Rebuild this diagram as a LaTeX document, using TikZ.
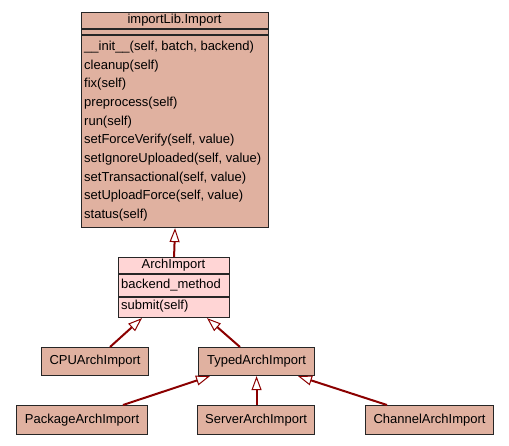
\documentclass[tikz,border=0pt]{standalone}
\usepackage{fontspec}
\setmainfont{Liberation Sans}
\usetikzlibrary{arrows.meta}
\definecolor{clsfill}{HTML}{E0B1A0}
\definecolor{basefill}{HTML}{FFD5D5}
\definecolor{inherit}{HTML}{8B0000}
\definecolor{clsline}{HTML}{262626}
\begin{document}
\begin{tikzpicture}[x=1pt,y=-1pt,
  every node/.style={font=\fontsize{13}{15}\selectfont},
  box/.style={draw=clsline, line width=1.1pt, fill=clsfill, anchor=north west, inner sep=0pt},
  txt/.style={inner sep=0pt, text height=9.4, text depth=2.8},
  member/.style={txt, anchor=west},
  sep/.style={draw=clsline, line width=1.1pt},
  isa/.style={draw=inherit, line width=2pt,
    -{Triangle[open, length=14pt, width=10pt, line width=1pt]}}]
\useasboundingbox (0,0) rectangle (509,445);

% importLib.Import
\node[box, minimum width=187, minimum height=215] (imp) at (81,12) {};
\node[txt] (impt) at (174.5,20.5) {importLib.Import};
\draw[sep] ([yshift=-17]imp.north west) -- ([yshift=-17]imp.north east);
\draw[sep] ([yshift=-23]imp.north west) -- ([yshift=-23]imp.north east);
\node[member] (m1)  at (84,47)    {\_\_init\_\_(self, batch, backend)};
\node[member] (m2)  at (84,65.7)  {cleanup(self)};
\node[member] (m3)  at (84,84.3)  {fix(self)};
\node[member] (m4)  at (84,103)   {preprocess(self)};
\node[member] (m5)  at (84,121.7) {run(self)};
\node[member] (m6)  at (84,140.3) {setForceVerify(self, value)};
\node[member] (m7)  at (84,159)   {setIgnoreUploaded(self, value)};
\node[member] (m8)  at (84,177.7) {setTransactional(self, value)};
\node[member] (m9)  at (84,196.3) {setUploadForce(self, value)};
\node[member] (m10) at (84,215)   {status(self)};

% ArchImport
\node[box, fill=basefill, minimum width=111, minimum height=60] (arch) at (118,257) {};
\node[txt] (archt) at (173.5,265.5) {ArchImport};
\draw[sep] ([yshift=-17]arch.north west) -- ([yshift=-17]arch.north east);
\draw[sep] ([yshift=-40]arch.north west) -- ([yshift=-40]arch.north east);
\node[member] (a1) at (121,285.5) {backend\_method};
\node[member] (a2) at (121,306.5) {submit(self)};

% subclasses
\node[box, minimum width=107, minimum height=28] (cpu)   at (41,347)  {};
\node[txt] at (cpu.center) {CPUArchImport};
\node[box, minimum width=116, minimum height=28] (typed) at (198,347) {};
\node[txt] at (typed.center) {TypedArchImport};
\node[box, minimum width=131, minimum height=29] (pkg)   at (16,405)  {};
\node[txt] at (pkg.center) {PackageArchImport};
\node[box, minimum width=117, minimum height=29] (srv)   at (197,405) {};
\node[txt] at (srv.center) {ServerArchImport};
\node[box, minimum width=128, minimum height=29] (chan)  at (365,405) {};
\node[txt] at (chan.center) {ChannelArchImport};

% inheritance edges
\draw[isa] (arch.north) -- (imp.south);
\draw[isa] ([xshift=69]cpu.north west) -- ([xshift=24]arch.south west);
\draw[isa] ([xshift=42]typed.north west) -- ([xshift=89]arch.south west);
\draw[isa] ([xshift=107]pkg.north west) -- ([xshift=12]typed.south west);
\draw[isa] (srv.north -| typed.south) -- (typed.south);
\draw[isa] ([xshift=22]chan.north west) -- ([xshift=100]typed.south west);
\end{tikzpicture}
\end{document}
